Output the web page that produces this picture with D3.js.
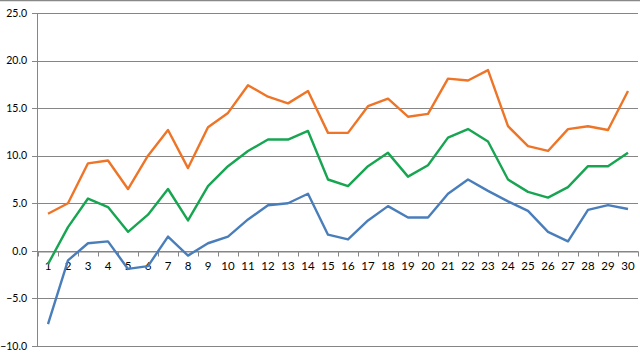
<!DOCTYPE html>
<html><head><meta charset="utf-8">
<script src="https://cdn.jsdelivr.net/npm/d3@7"></script>
<style>body{margin:0;background:#fff}svg text{font-family:Lato,"Open Sans",sans-serif;font-size:10.5px;fill:#000}</style>
</head><body><svg id="c" width="640" height="360"></svg>
<script>
const categories = d3.range(1, 31).map(String);
const yTicks = [-10, -5, 0, 5, 10, 15, 20, 25];
const orangeValues = [3.9,5.0,9.2,9.5,6.5,10.0,12.7,8.7,13.0,14.5,17.4,16.2,15.5,16.8,12.4,12.4,15.2,16.0,14.1,14.4,18.1,17.9,19.0,13.1,11.0,10.5,12.8,13.1,12.7,16.8];
const greenValues = [-1.4,2.5,5.5,4.6,2.0,3.8,6.5,3.2,6.8,8.9,10.5,11.7,11.7,12.6,7.5,6.8,8.9,10.3,7.8,9.0,11.9,12.8,11.5,7.5,6.2,5.6,6.7,8.9,8.9,10.3];
const blueValues = [-7.7,-1.0,0.8,1.0,-1.9,-1.6,1.5,-0.5,0.8,1.5,3.3,4.8,5.0,6.0,1.7,1.2,3.2,4.7,3.5,3.5,6.0,7.5,6.3,5.2,4.2,2.0,1.0,4.3,4.8,4.4];
const series = [
  {name:"blue", values: blueValues, color:"#4a7ebb"},
  {name:"orange", values: orangeValues, color:"#ee7527"},
  {name:"green", values: greenValues, color:"#17a552"}
];
const svg = d3.select("#c");
const x = d3.scaleBand().domain(categories).range([38, 638]);
const y = d3.scaleLinear().domain([-10, 25]).range([346, 13]);
svg.append("line").attr("x1",0).attr("x2",640).attr("y1",0.5).attr("y2",0.5).attr("stroke","#888").attr("stroke-width",1.5);
svg.append("g").selectAll("line").data(yTicks).join("line")
  .attr("x1",32).attr("x2",638)
  .attr("y1",d=>Math.round(y(d))+0.5).attr("y2",d=>Math.round(y(d))+0.5)
  .attr("stroke","#868686").attr("stroke-width",1);
svg.append("line").attr("x1",37.5).attr("x2",37.5).attr("y1",y(25)).attr("y2",y(-10)).attr("stroke","#868686");
svg.append("g").selectAll("text").data(yTicks).join("text")
  .attr("x",27).attr("y",d=>y(d)).attr("dy","0.35em").attr("text-anchor","end")
  .text(d=>d3.format(".1f")(d));
const xAxis = d3.axisBottom(x).tickSize(0).tickPadding(10);
const gx = svg.append("g").attr("transform",`translate(0,${Math.round(y(0))+0.5})`).call(xAxis);
gx.select(".domain").attr("stroke","#868686");
gx.selectAll("text").style("font-family","Lato,sans-serif").style("font-size","11.5px").attr("fill","#000");
const bounds = categories.map(c=>x(c)).concat([x(categories[categories.length-1])+x.bandwidth()]);
gx.append("g").selectAll("line").data(bounds).join("line")
  .attr("x1",d=>Math.round(d)+0.5).attr("x2",d=>Math.round(d)+0.5).attr("y1",0).attr("y2",5)
  .attr("stroke","#868686");
const line = d3.line().x((d,i)=>x(categories[i])+x.bandwidth()/2).y(d=>y(d));
svg.append("g").selectAll("path").data(series).join("path")
  .attr("d",d=>line(d.values)).attr("fill","none").attr("stroke",d=>d.color)
  .attr("stroke-width",2.4).attr("stroke-linejoin","round");
</script></body></html>
